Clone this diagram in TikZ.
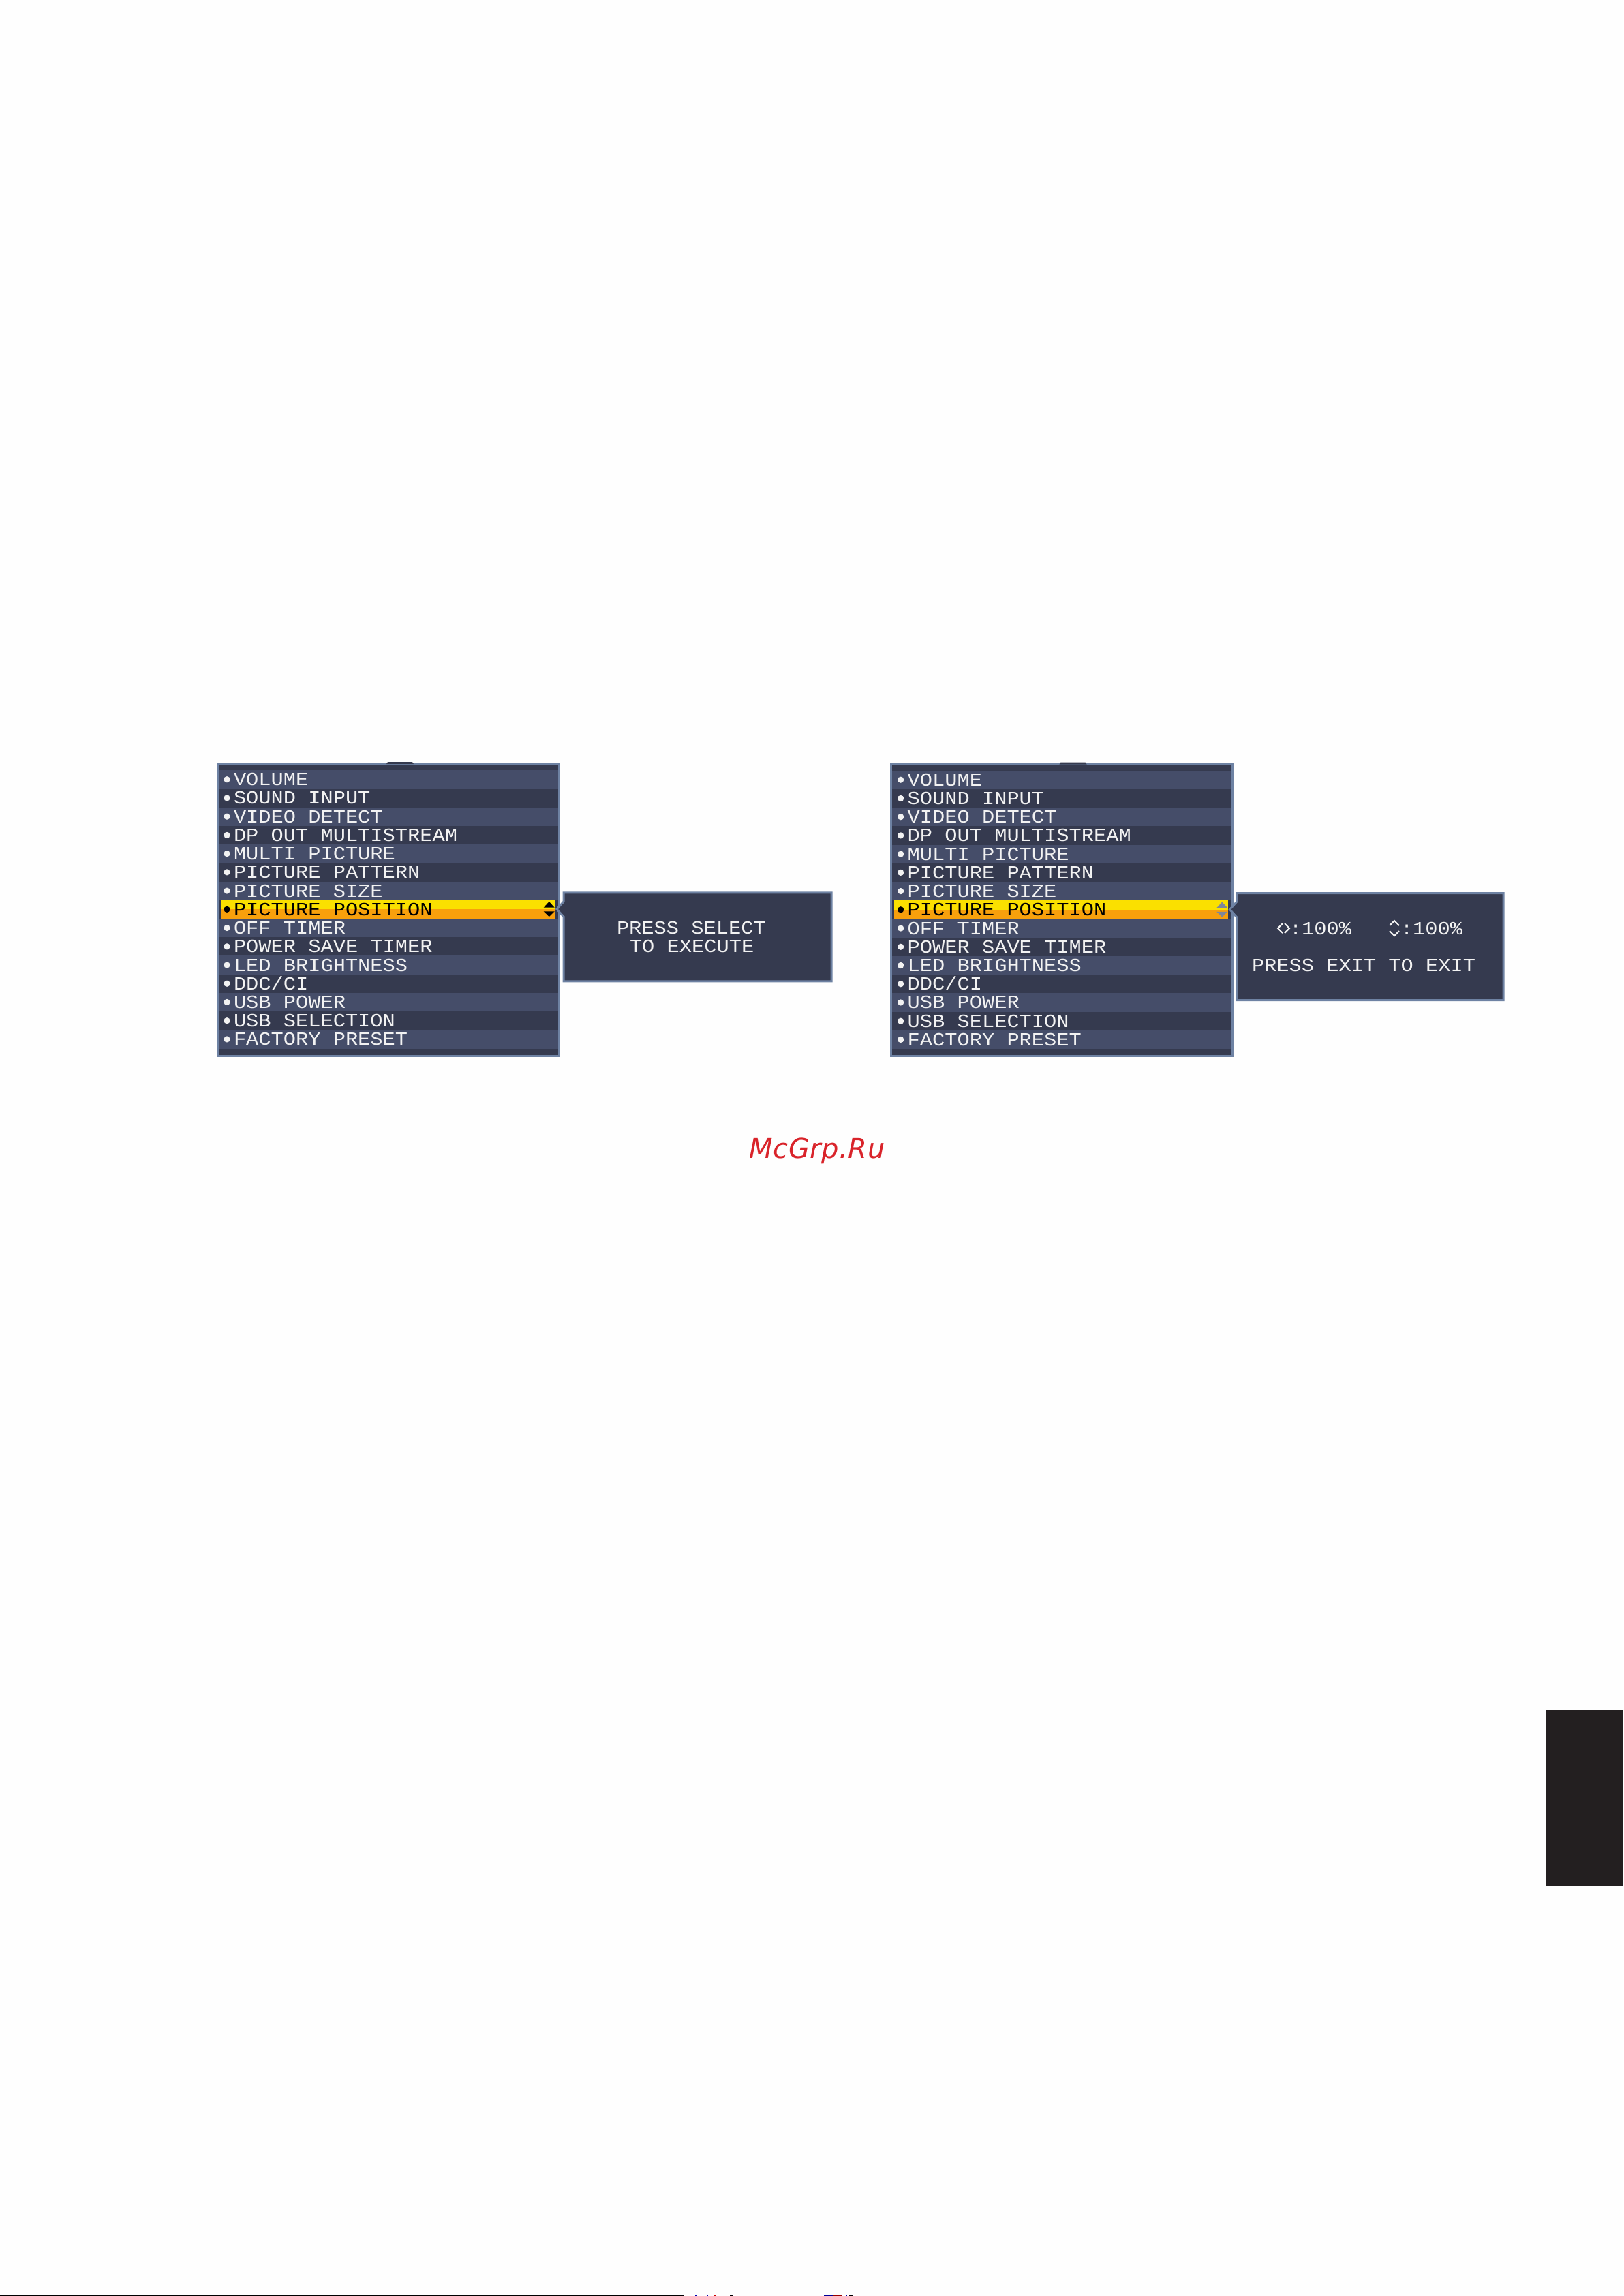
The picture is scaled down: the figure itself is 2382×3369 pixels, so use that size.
\documentclass[tikz,border=0pt]{standalone}
\usepackage{fontspec}
\setmainfont{Liberation Sans}
\newfontfamily\osdfont{Liberation Mono}
\newfontfamily\wmfont[LetterSpace=1.2]{DejaVu Sans}
\definecolor{pagebg}{HTML}{FEFEFE}
\definecolor{rowlight}{HTML}{454D69}
\definecolor{rowdark}{HTML}{353A4F}
\definecolor{frameblue}{HTML}{6E82A3}
\definecolor{hlyellow}{HTML}{FAE000}
\definecolor{hlorange}{HTML}{F8A00C}
\definecolor{osdtext}{HTML}{F2F2F2}
\definecolor{tabblack}{HTML}{231F20}
\definecolor{wmred}{HTML}{D9232A}
\definecolor{trigray}{HTML}{7F879A}
\tikzset{
  osdlabel/.style={inner sep=0pt,outer sep=0pt,anchor=base west,text=osdtext,font=\osdfont\fontsize{7.29}{7.29}\selectfont},
  framed/.style={fill=rowdark,draw=frameblue,line width=.72pt,line join=miter},
  dotmark/.style={fill=osdtext,draw=none},
}
\newcommand{\osdtxt}[1]{\scalebox{1}[.9]{#1}}
\newcommand{\osdmenu}[3]{%
  % #1 prefix, #2 colour of arrows, #3 x offset of the text column
  \draw[framed] (319.5,1120.5) rectangle (820.5,1549);
  \foreach \i in {0,2,4,6,8,10,12,14}
    \fill[rowlight] (321,{1130.1+\i*27.23}) rectangle (819,{1130.1+(\i+1)*27.23});
  \fill[rowdark] (569,1118) -- (605,1118) -- (607,1121) -- (567,1121) -- cycle;
  \fill[hlyellow] (324,1320.7) rectangle (814.7,1334.4);
  \fill[hlorange] (324,1334.4) rectangle (814.7,1348);
  \foreach \i/\t in {0/VOLUME,1/SOUND INPUT,2/VIDEO DETECT,3/DP OUT MULTISTREAM,4/MULTI PICTURE,5/PICTURE PATTERN,6/PICTURE SIZE,7/PICTURE POSITION,8/OFF TIMER,9/POWER SAVE TIMER,10/LED BRIGHTNESS,11/{DDC/CI},12/USB POWER,13/USB SELECTION,14/FACTORY PRESET}{
    \ifnum\i=7
      \fill[black] ({333+#3},{1143.7+\i*27.23}) circle (4.6);
      \node[osdlabel,text=black] (#1-\i) at ({343+#3},{1152.7+\i*27.23}) {\osdtxt{\t}};
    \else
      \fill[dotmark] ({333+#3},{1143.7+\i*27.23}) circle (4.6);
      \node[osdlabel] (#1-\i) at ({343+#3},{1152.7+\i*27.23}) {\osdtxt{\t}};
    \fi
  }
  \fill[#2] (805.7,1323) -- (813.7,1331.7) -- (797.7,1331.7) -- cycle;
  \fill[#2] (805.7,1345) -- (813.7,1337.3) -- (797.7,1337.3) -- cycle;
}
\begin{document}
\begin{tikzpicture}[x=.24pt,y=-.24pt]
\useasboundingbox (0,0) rectangle (2382,3369);
\fill[pagebg] (0,0) rectangle (2382,3369);

\begin{scope}
  \osdmenu{a}{black}{0}
  \draw[framed] (827,1309.8) -- (1220.2,1309.8) -- (1220.2,1439.8) -- (827,1439.8) -- (827,1345) -- (817,1334) -- (827,1323) -- cycle;
  \node[osdlabel] (a-press) at (905,1370.7) {\osdtxt{PRESS SELECT}};
  \node[osdlabel] (a-exec) at (924,1397) {\osdtxt{TO EXECUTE}};
\end{scope}

\begin{scope}[shift={(987.5,0.5)}]
  \osdmenu{b}{trigray}{1.2}
  \draw[framed] (827,1310) -- (1218.7,1310) -- (1218.7,1467) -- (827,1467) -- (827,1345) -- (817,1334) -- (827,1323) -- cycle;
\end{scope}
% right-hand read-out
\draw[osdtext,line width=.5pt] (1882,1355) -- (1875,1362) -- (1882,1369);
\draw[osdtext,line width=.5pt] (1885,1355) -- (1892,1362) -- (1885,1369);
\draw[osdtext,line width=.5pt] (2039,1358) -- (2046,1351) -- (2053,1358);
\draw[osdtext,line width=.5pt] (2039,1366) -- (2046,1373) -- (2053,1366);
\node[osdlabel] (b-h) at (1892,1371) {\osdtxt{:100\%}};
\node[osdlabel] (b-v) at (2055,1371) {\osdtxt{:100\%}};
\node[osdlabel] (b-exit) at (1837,1425) {\osdtxt{PRESS EXIT TO EXIT}};

% watermark
\node[inner sep=0pt,anchor=base west,text=wmred,font=\wmfont\itshape\fontsize{9.6}{9.6}\selectfont] (wm) at (1099,1699) {McGrp.Ru};

% thumb tab
\fill[tabblack] (2268,2509) rectangle (2381,2768);
% crop line and cut-off marks at the lower edge
\fill[black] (0,3368) rectangle (1004,3369);
\fill[blue!70!black] (1020,3368) rectangle (1023,3369);
\fill[blue!70!black] (1037,3368) rectangle (1039,3369);
\fill[red!80!black] (1048,3368) rectangle (1050,3369);
\fill[black] (1071,3368) rectangle (1075,3369);
\fill[blue!60!black] (1209,3368) rectangle (1222,3369);
\fill[red!60!black] (1222,3368) rectangle (1235,3369);
\fill[blue!70!black] (1241,3368) rectangle (1243,3369);
\fill[black] (1246,3368) rectangle (1252,3369);
\end{tikzpicture}
\end{document}
